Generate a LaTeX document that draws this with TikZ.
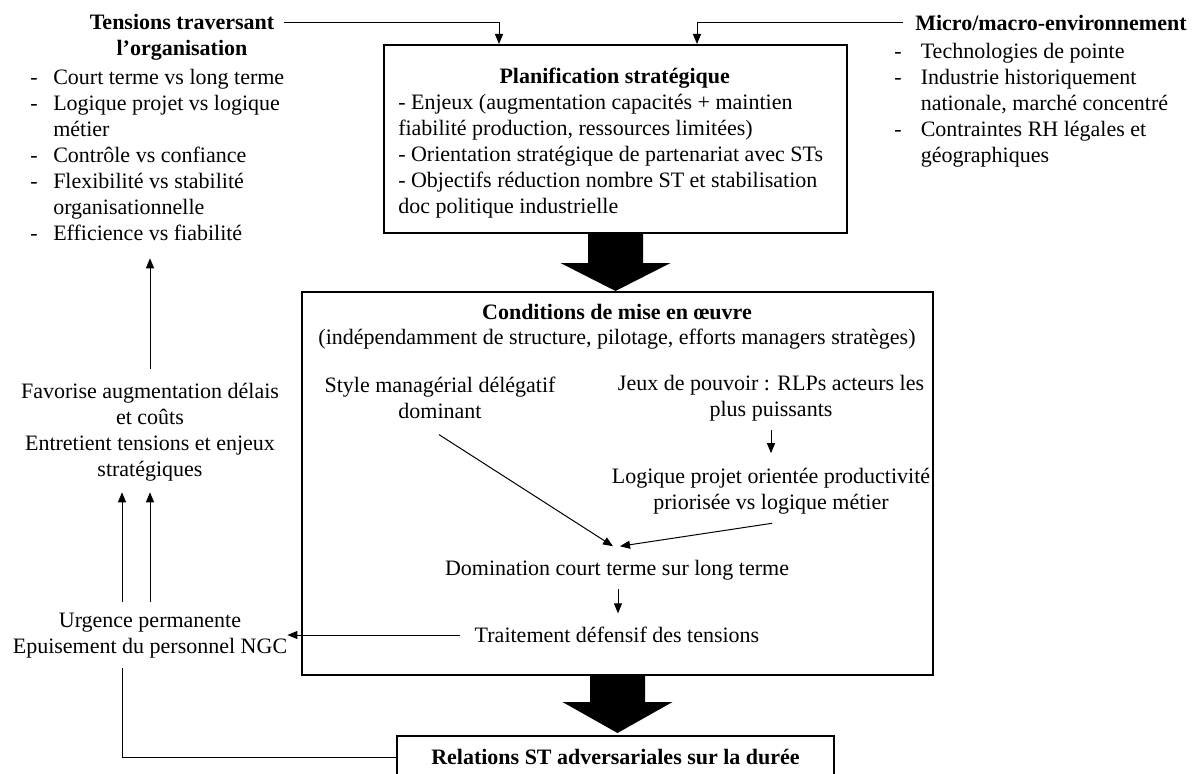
\documentclass[tikz,border=0pt]{standalone}
\usepackage{fontspec}
\setmainfont{Liberation Serif}
\usetikzlibrary{arrows.meta,calc}
\newcommand\dfont{\fontsize{16.5}{19.5}\selectfont}
\begin{document}
\begin{tikzpicture}[x=0.75pt,y=-0.75pt,
  txt/.style={font=\dfont, inner sep=0pt, align=center},
  hd/.style={font=\dfont\bfseries, inner sep=0pt, align=center},
  frame/.style={draw, line width=1.5pt, inner sep=0pt},
  conn/.style={line width=0.75pt, -{Triangle[length=7.5pt,width=6pt]}},
  plainline/.style={line width=0.75pt}]
\useasboundingbox (0,0) rectangle (1192,774);
\fill[white] (0,0) rectangle (1192,774);
\clip (0,0) rectangle (1192,774);

% ---- left block
\node[hd] (tens) at (182,37) {Tensions traversant\\l’organisation};
\node[txt, anchor=west] (tenslist) at (30,157) {\begin{tabular}{@{}p{17.25pt}@{}l@{}}
- & Court terme vs long terme\\
- & Logique projet vs logique\\
  & métier\\
- & Contrôle vs confiance\\
- & Flexibilité vs stabilité\\
  & organisationnelle\\
- & Efficience vs fiabilité
\end{tabular}};

% ---- right block
\node[hd, anchor=west] (micro) at (915,23) {Micro/macro-environnement};
\node[txt, anchor=west] (microlist) at (894,105) {\begin{tabular}{@{}p{19.9pt}@{}l@{}}
- & Technologies de pointe\\
- & Industrie historiquement\\
  & nationale, marché concentré\\
- & Contraintes RH légales et\\
  & géographiques
\end{tabular}};

% ---- planification box
\node[frame, minimum width=347.25pt, minimum height=141pt] (planif) at (615.5,139) {};
\node[txt, anchor=west] (ptext) at (398,143) {\begin{tabular}{@{}l@{}}
\multicolumn{1}{@{}c@{}}{\hspace*{6pt}\bfseries Planification stratégique}\\
- Enjeux (augmentation capacités + maintien\\
fiabilité production, ressources limitées)\\
- Orientation stratégique de partenariat avec STs\\
- Objectifs réduction nombre ST et stabilisation\\
doc politique industrielle
\end{tabular}};

% ---- conditions box
\node[frame, minimum width=473.25pt, minimum height=287.25pt] (cond) at (617.5,483.5) {};
\node[hd] (condtitle) at (617,312) {Conditions de mise en œuvre};
\node[txt] (condsub) at (617,339) {(indépendamment de structure, pilotage, efforts managers stratèges)};
\node[txt] (style) at (440,398) {Style managérial délégatif\\dominant};
\node[txt] (jeux) at (771,398) {Jeux de pouvoir : RLPs acteurs les\\plus puissants};
\node[txt] (logique) at (771,491) {Logique projet orientée productivité\\priorisée vs logique métier};
\node[txt] (domin) at (617,570) {Domination court terme sur long terme};
\node[txt] (trait) at (617,635) {Traitement défensif des tensions};

% ---- left column
\node[txt] (fav) at (150,432) {Favorise augmentation délais\\et coûts\\Entretient tensions et enjeux\\stratégiques};
\node[txt] (urg) at (150,636) {Urgence permanente\\Epuisement du personnel NGC};

% ---- bottom box
\node[frame, hd, minimum width=327.75pt, minimum height=31.5pt] (rel) at (615.5,757) {Relations ST adversariales sur la durée};

% ---- big arrows
\coordinate (t1) at (planif.south |- cond.north);
\fill ($(planif.south)+(-27.5,0)$) -- ($(planif.south)+(27.5,0)$) -- ($(t1)+(27.5,-28)$) -- ($(t1)+(55,-28)$) -- (t1) -- ($(t1)+(-55,-28)$) -- ($(t1)+(-27.5,-28)$) -- cycle;
\coordinate (t2) at ($(cond.south |- rel.north)+(0,-2)$);
\fill ($(cond.south)+(-27.5,0)$) -- ($(cond.south)+(27.5,0)$) -- ($(t2)+(27.5,-31)$) -- ($(t2)+(55,-31)$) -- (t2) -- ($(t2)+(-55,-31)$) -- ($(t2)+(-27.5,-31)$) -- cycle;

% ---- connectors
\draw[conn] ($(tens.north east)+(10,9)$) -| ($(planif.north west)+(116,0)$);
\draw[conn] ($(micro.west)+(-12,0)$) -| ($(planif.north west)+(314,0)$);
\draw[conn] ($(fav.north)+(0,-13.5)$) -- ($(fav.north |- tenslist.south)+(0,10)$);
\draw[conn] ($(urg.north)+(0,-11.5)$) -- ($(fav.south)+(0,11)$);
\draw[conn] ($(urg.north)+(-28,-11.5)$) -- ($(fav.south)+(-28,11)$);
\draw[conn] ($(trait.west)+(-14,0)$) -- (urg.east |- trait.west);
\draw[plainline] ($(urg.south)+(-28,9)$) |- (rel.west);
\draw[conn] ($(jeux.south)+(0,9)$) -- ($(logique.north)+(0,-14.5)$);
\draw[conn] ($(style.south)+(-1,15.5)$) -- ($(domin.north)+(-4,-13.5)$);
\draw[conn] ($(logique.south)+(1,9)$) -- ($(domin.north)+(3,-13.5)$);
\draw[conn] ($(domin.south)+(1,9)$) -- ($(trait.north)+(1,-13.5)$);
\end{tikzpicture}
\end{document}
